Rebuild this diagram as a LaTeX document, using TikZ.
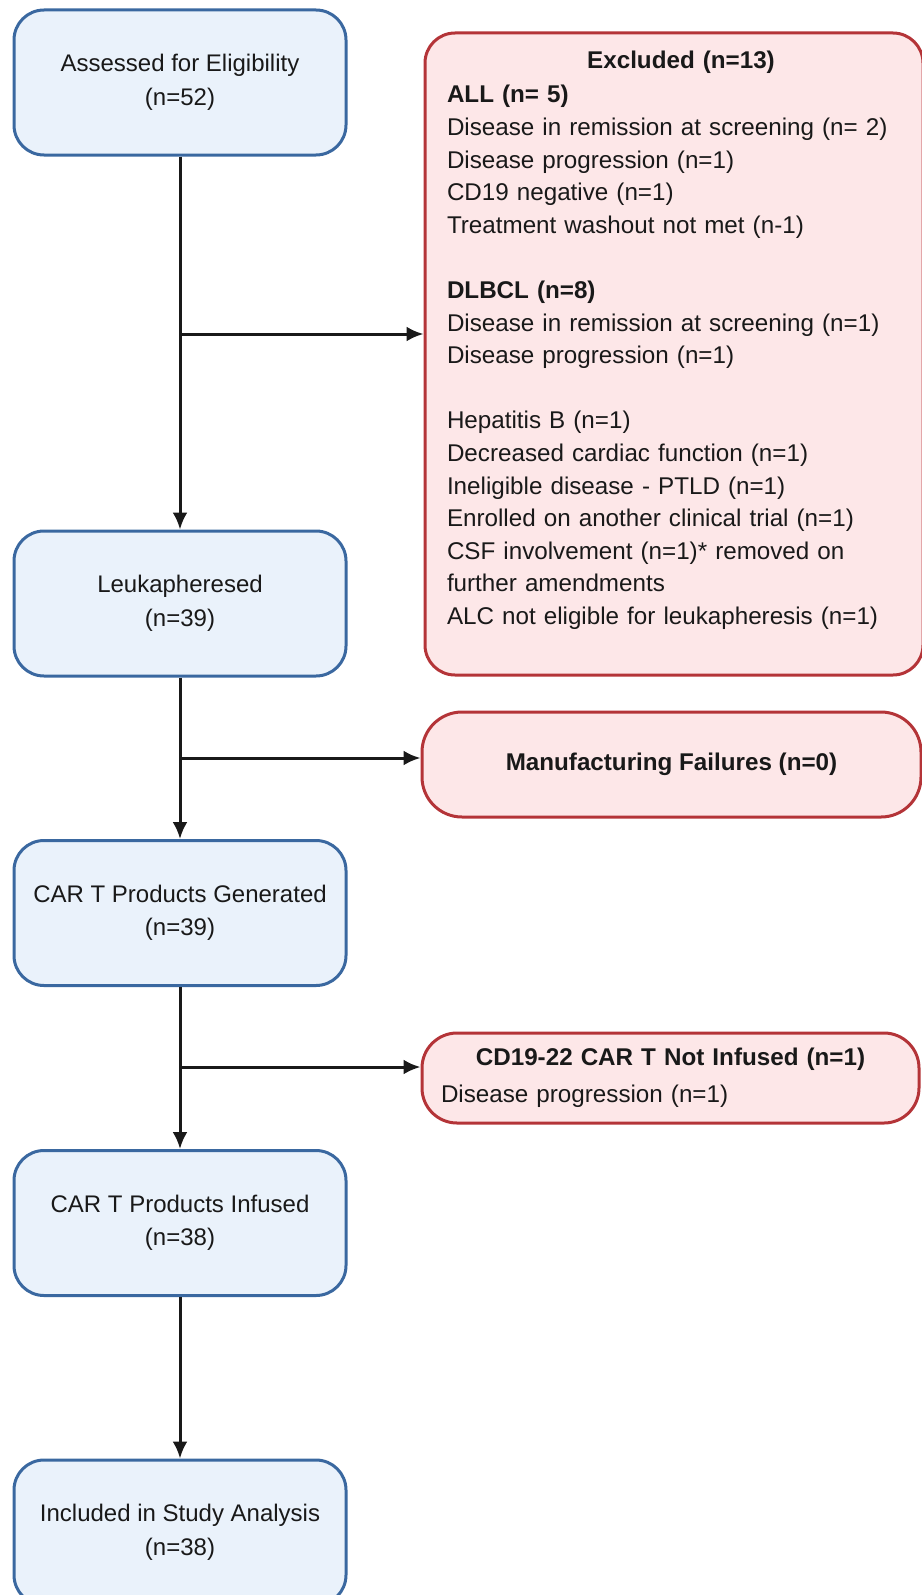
\documentclass[tikz,border=0pt]{standalone}
\usepackage{fontspec}
\setmainfont{Liberation Sans}
\usetikzlibrary{arrows.meta,calc}
\definecolor{bfill}{RGB}{234,242,251}
\definecolor{bdraw}{RGB}{58,104,160}
\definecolor{rfill}{RGB}{253,231,232}
\definecolor{rdraw}{RGB}{180,52,56}
\definecolor{ink}{RGB}{25,25,25}
\begin{document}
\begin{tikzpicture}[x=1pt,y=-1pt,
 bluebox/.style={draw=bdraw, fill=bfill, line width=3pt, rounded corners=30pt,
   minimum width=332pt, minimum height=145pt, align=center, text=ink,
   font=\fontsize{24}{33.5}\selectfont},
 redbox/.style={draw=rdraw, fill=rfill, line width=3pt, text=ink,
   font=\fontsize{24.2}{32.6}\selectfont},
 flow/.style={draw=ink, line width=3pt, -{Latex[length=17pt,width=15pt]}}]
\useasboundingbox (0,0) rectangle (921,1595);

\node[bluebox] (elig) at (180,82.5) {Assessed for Eligibility\\(n=52)};
\node[bluebox] (leuk) at (180,603.5) {Leukapheresed\\(n=39)};
\node[bluebox] (gen) at (180,913) {CAR T Products Generated\\(n=39)};
\node[bluebox] (inf) at (180,1223) {CAR T Products Infused\\(n=38)};
\node[bluebox] (incl) at (180,1532.5) {Included in Study Analysis\\(n=38)};

\node[redbox, rounded corners=30pt, minimum width=498pt, minimum height=642pt,
      text width=454pt, align=left] (excl) at (674,354) {%
\makebox[454pt]{\hspace{14pt}\textbf{Excluded (n=13)}}\\[2pt]
\textbf{ALL (n= 5)}\\
Disease in remission at screening (n= 2)\\
Disease progression (n=1)\\
CD19 negative (n=1)\\
Treatment washout not met (n-1)\\
\mbox{}\\
\textbf{DLBCL (n=8)}\\
Disease in remission at screening (n=1)\\
Disease progression (n=1)\\
\mbox{}\\
Hepatitis B (n=1)\\
Decreased cardiac function (n=1)\\
Ineligible disease - PTLD (n=1)\\
Enrolled on another clinical trial (n=1)\\
CSF involvement (n=1)* removed on\\
further amendments\\
ALC not eligible for leukapheresis (n=1)\\
\mbox{}};

\node[redbox, rounded corners=40pt, minimum width=499pt, minimum height=105pt]
  (manu) at (671.5,764.5) {\textbf{Manufacturing Failures (n=0)}};

\node[redbox, rounded corners=35pt, minimum width=497pt, minimum height=90pt,
      text width=459pt, align=left] (notinf) at (670.5,1078)
  {\makebox[459pt]{\textbf{CD19-22 CAR T Not Infused (n=1)}}\\[4pt]
   Disease progression (n=1)};

\draw[flow] (elig.south) -- (leuk.north);
\draw[flow] (leuk.south) -- (gen.north);
\draw[flow] (gen.south) -- (inf.north);
\draw[flow] (inf.south) -- (incl.north);

\coordinate (j1) at (180,334);
\coordinate (j2) at (180,758);
\coordinate (j3) at (180,1067);
\draw[flow] (j1) -- (j1 -| excl.west);
\draw[flow] (j2) -- (j2 -| manu.west);
\draw[flow] (j3) -- (j3 -| notinf.west);
\end{tikzpicture}
\end{document}
